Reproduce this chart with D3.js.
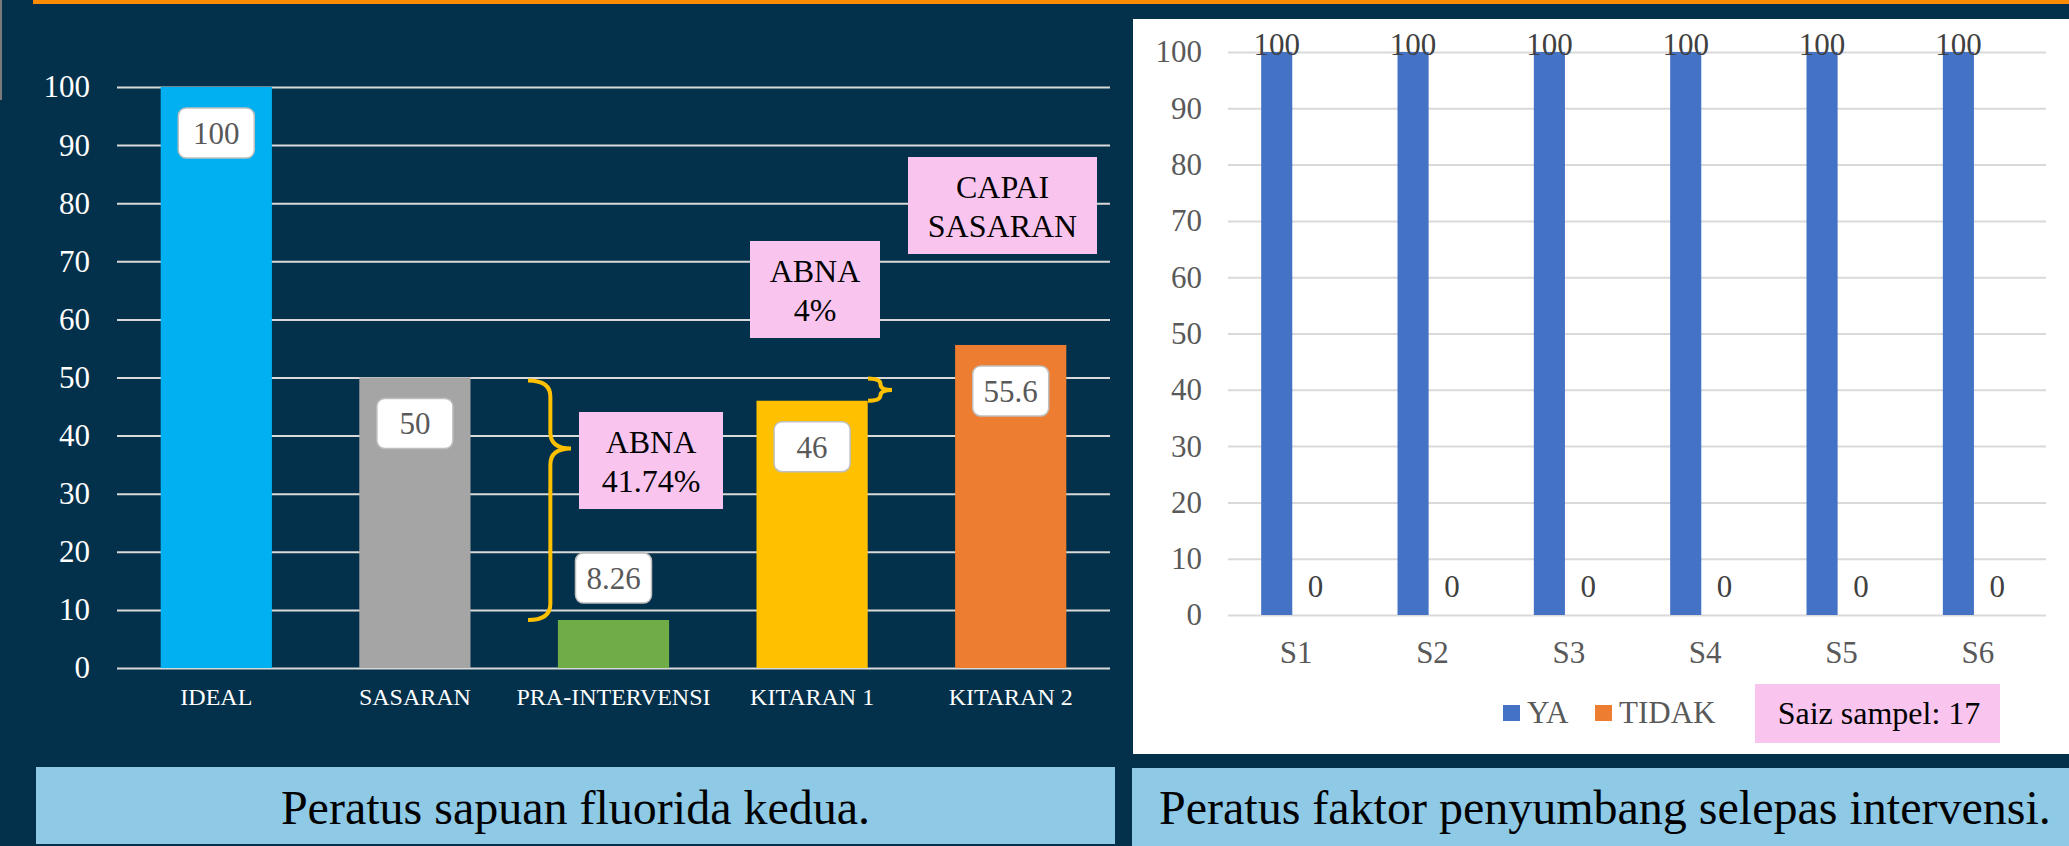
<!DOCTYPE html>
<html>
<head>
<meta charset="utf-8">
<script src="https://cdn.jsdelivr.net/npm/d3@7"></script>
<style>
  body { margin: 0; background: #03304a; }
  svg { display: block; }
</style>
</head>
<body>
<svg id="slide" width="2069" height="846"></svg>
<script>
// ---- DATA ----
const leftCategories = ["IDEAL", "SASARAN", "PRA-INTERVENSI", "KITARAN 1", "KITARAN 2"];
const leftValues = [100, 50, 8.26, 46, 55.6];
const leftColors = ["#00B0F0", "#A5A5A5", "#70AD47", "#FFC000", "#ED7D31"];
const yTicks = [0, 10, 20, 30, 40, 50, 60, 70, 80, 90, 100];

const rightCategories = ["S1", "S2", "S3", "S4", "S5", "S6"];
const seriesNames = ["YA", "TIDAK"];
const yaValues = [100, 100, 100, 100, 100, 100];
const tidakValues = [0, 0, 0, 0, 0, 0];
const seriesColors = ["#4472C4", "#ED7D31"];

// annotation notes: [text lines], plus gap values they bracket
const noteBig = ["ABNA", "41.74%"];
const noteSmall = ["ABNA", "4%"];
const noteTarget = ["CAPAI", "SASARAN"];
const sampleNote = "Saiz sampel: 17";
const captionLeft = "Peratus sapuan fluorida kedua.";
const captionRight = "Peratus faktor penyumbang selepas intervensi.";

// ---- STYLE ----
const SERIF = "'Liberation Serif', 'Times New Roman', serif";
const PINK = "#F9C5EF";
const CAPTION_BG = "#8EC9E6";

const svg = d3.select("#slide");

// slide decorations
svg.append("rect").attr("x", 33).attr("y", 0).attr("width", 2036).attr("height", 4).attr("fill", "#FF8B00");
svg.append("rect").attr("x", 0).attr("y", 0).attr("width", 2).attr("height", 100).attr("fill", "#7a7a7a");
svg.append("rect").attr("x", 1133).attr("y", 19).attr("width", 936).attr("height", 735).attr("fill", "#ffffff");

// ================= LEFT CHART =================
const xL = d3.scaleBand().domain(leftCategories).range([117, 1110]).paddingInner(0.44).paddingOuter(0.22);
const yL = d3.scaleLinear().domain([0, 100]).range([668, 87]);

const gAxisL = svg.append("g")
  .attr("transform", `translate(${xL.range()[0]},0)`)
  .call(d3.axisLeft(yL).tickValues(yTicks).tickSize(-(xL.range()[1] - xL.range()[0])).tickPadding(27));
gAxisL.select(".domain").remove();
gAxisL.selectAll(".tick line").attr("stroke", "#D9D9D9").attr("stroke-width", 2);
gAxisL.selectAll(".tick text").attr("fill", "#ffffff").attr("font-family", SERIF).attr("font-size", 31);

svg.append("g").selectAll("rect")
  .data(leftValues)
  .join("rect")
  .attr("x", (d, i) => xL(leftCategories[i]))
  .attr("width", xL.bandwidth())
  .attr("y", d => yL(d))
  .attr("height", d => yL(0) - yL(d))
  .attr("fill", (d, i) => leftColors[i]);

const gCatL = svg.append("g")
  .attr("transform", `translate(0,${yL(0)})`)
  .call(d3.axisBottom(xL).tickSize(0).tickPadding(20));
gCatL.select(".domain").remove();
gCatL.selectAll(".tick text").attr("fill", "#ffffff").attr("font-family", SERIF).attr("font-size", 24);

// value labels in white rounded boxes (inside end, or outside for short bars)
const lblW = 76, lblH = 50;
const lbl = svg.append("g").selectAll("g")
  .data(leftValues)
  .join("g")
  .attr("transform", (d, i) => {
    const cx = xL(leftCategories[i]) + xL.bandwidth() / 2;
    const cy = d > 20 ? yL(d) + 46 : yL(d) - 42;
    return `translate(${cx},${cy})`;
  });
lbl.append("rect")
  .attr("x", -lblW / 2).attr("y", -lblH / 2)
  .attr("width", lblW).attr("height", lblH)
  .attr("rx", 8)
  .attr("fill", "#ffffff").attr("stroke", "#BFBFBF").attr("stroke-width", 1.5);
lbl.append("text")
  .attr("text-anchor", "middle").attr("dy", "0.35em")
  .attr("font-family", SERIF).attr("font-size", 31).attr("fill", "#595959")
  .text(d => d);

// curly brace "}" between two levels
function brace(x0, yTop, yBot, yMid, depth) {
  const h = yBot - yTop;
  const r = Math.min(16, h / 4);
  const xv = x0 + depth * 0.52;
  const xp = x0 + depth;
  return `M${x0},${yTop} Q${xv},${yTop} ${xv},${yTop + r} L${xv},${yMid - r} Q${xv},${yMid} ${xp},${yMid}` +
         ` Q${xv},${yMid} ${xv},${yMid + r} L${xv},${yBot - r} Q${xv},${yBot} ${x0},${yBot}`;
}
const braceColor = "#FFC000";
svg.append("path")
  .attr("d", brace(528, yL(50) + 3, yL(leftValues[2]), yL(37.8), 43))
  .attr("fill", "none").attr("stroke", braceColor).attr("stroke-width", 4);
svg.append("path")
  .attr("d", brace(868, yL(50) + 1, yL(leftValues[3]), (yL(50) + yL(leftValues[3])) / 2 + 1, 24))
  .attr("fill", "none").attr("stroke", braceColor).attr("stroke-width", 4);

// pink note boxes
function note(x, y, w, lines) {
  const g = svg.append("g").attr("transform", `translate(${x},${y})`);
  g.append("rect").attr("width", w).attr("height", 97).attr("fill", PINK);
  lines.forEach((t, i) => {
    g.append("text")
      .attr("x", w / 2).attr("y", 41 + i * 39)
      .attr("text-anchor", "middle")
      .attr("font-family", SERIF).attr("font-size", 32).attr("fill", "#000")
      .text(t);
  });
}
note(579, 412, 144, noteBig);
note(750, 241, 130, noteSmall);
note(908, 157, 189, noteTarget);

// caption left
svg.append("rect").attr("x", 36).attr("y", 767).attr("width", 1079).attr("height", 77).attr("fill", CAPTION_BG);
svg.append("text")
  .attr("x", 575.5).attr("y", 824).attr("text-anchor", "middle")
  .attr("font-family", SERIF).attr("font-size", 48).attr("fill", "#000")
  .text(captionLeft);

// ================= RIGHT CHART =================
const x0R = d3.scaleBand().domain(rightCategories).range([1228, 2046]).paddingInner(0.4866).paddingOuter(0.2433);
const x1R = d3.scaleBand().domain(seriesNames).range([0, x0R.bandwidth()]).paddingInner(0.2);
const yR = d3.scaleLinear().domain([0, 100]).range([615, 52]);

const gAxisR = svg.append("g")
  .attr("transform", `translate(${x0R.range()[0]},0)`)
  .call(d3.axisLeft(yR).tickValues(yTicks).tickSize(-(x0R.range()[1] - x0R.range()[0])).tickPadding(26));
gAxisR.select(".domain").remove();
gAxisR.selectAll(".tick line").attr("stroke", "#D9D9D9").attr("stroke-width", 2);
gAxisR.selectAll(".tick text").attr("fill", "#595959").attr("font-family", SERIF).attr("font-size", 31);

const rows = rightCategories.map((c, i) => ({ cat: c, vals: [yaValues[i], tidakValues[i]] }));
const grp = svg.append("g").selectAll("g")
  .data(rows)
  .join("g")
  .attr("transform", d => `translate(${x0R(d.cat)},0)`);
const cells = grp.selectAll("g")
  .data(d => d.vals.map((v, j) => ({ name: seriesNames[j], v, color: seriesColors[j] })))
  .join("g");
cells.append("rect")
  .attr("x", d => x1R(d.name))
  .attr("width", x1R.bandwidth())
  .attr("y", d => yR(d.v))
  .attr("height", d => yR(0) - yR(d.v))
  .attr("fill", d => d.color);
cells.append("text")
  .attr("x", d => x1R(d.name) + x1R.bandwidth() / 2)
  .attr("y", d => Math.max(yR(d.v) - 18, yR(100) + 3))
  .attr("text-anchor", "middle")
  .attr("font-family", SERIF).attr("font-size", 31).attr("fill", "#404040")
  .text(d => d.v);

const gCatR = svg.append("g")
  .attr("transform", `translate(0,${yR(0)})`)
  .call(d3.axisBottom(x0R).tickSize(0).tickPadding(26));
gCatR.select(".domain").remove();
gCatR.selectAll(".tick text").attr("fill", "#595959").attr("font-family", SERIF).attr("font-size", 31);

// legend
const legX = [1503, 1595];
const leg = svg.append("g").selectAll("g")
  .data(seriesNames)
  .join("g")
  .attr("transform", (d, i) => `translate(${legX[i]},705)`);
leg.append("rect").attr("width", 17).attr("height", 16).attr("fill", (d, i) => seriesColors[i]);
leg.append("text")
  .attr("x", 24).attr("y", 18)
  .attr("font-family", SERIF).attr("font-size", 31).attr("fill", "#595959")
  .text(d => d);

// sample size note
svg.append("rect").attr("x", 1755).attr("y", 684).attr("width", 245).attr("height", 59).attr("fill", PINK);
svg.append("text")
  .attr("x", 1879).attr("y", 724).attr("text-anchor", "middle")
  .attr("font-family", SERIF).attr("font-size", 32).attr("fill", "#000")
  .text(sampleNote);

// caption right
svg.append("rect").attr("x", 1132).attr("y", 768).attr("width", 937).attr("height", 78).attr("fill", CAPTION_BG);
svg.append("text")
  .attr("x", 1159).attr("y", 824)
  .attr("font-family", SERIF).attr("font-size", 48).attr("fill", "#000")
  .text(captionRight);
</script>
</body>
</html>
